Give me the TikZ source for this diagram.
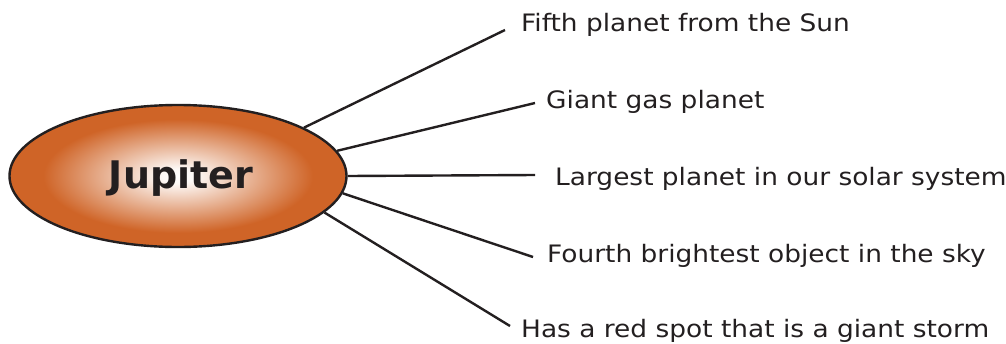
\documentclass[tikz,border=0pt]{standalone}
\usepackage{fontspec}
\usepackage{tikz}
\usetikzlibrary{shapes.geometric}
\newfontfamily\labelfont[FakeStretch=1.1]{DejaVu Sans}
\newfontfamily\titlefont{DejaVu Sans}
\definecolor{planetorange}{HTML}{CF6427}
\definecolor{ink}{HTML}{231F20}
\pgfdeclareradialshading{jupiterglow}{\pgfpoint{0bp}{0bp}}{%
  color(0bp)=(white); color(2.5bp)=(white!96!planetorange);
  color(20bp)=(planetorange); color(50bp)=(planetorange)}
\tikzset{
  planet/.style={ellipse, draw=ink, line width=2.4pt, shading=jupiterglow,
    minimum width=337pt, minimum height=142pt, inner sep=0pt},
  title/.style={font=\titlefont\bfseries\fontsize{38}{44}\selectfont, text=ink,
    anchor=base, inner sep=0pt},
  fact/.style={font=\labelfont\fontsize{24}{28}\selectfont, text=ink,
    anchor=base west, inner sep=0pt},
  spoke/.style={draw=ink, line width=2.4pt}
}
\begin{document}
\begin{tikzpicture}[x=1pt, y=-1pt]
  \useasboundingbox (0,0) rectangle (1006,343);

  \node[planet] (jupiter) at (178,176) {};
  \node[title] (name) at (181,188) {Jupiter};

  \node[fact] (fifth) at (521,31) {Fifth planet from the Sun};
  \node[fact] (gas) at (546,108) {Giant gas planet};
  \node[fact] (largest) at (555,185) {Largest planet in our solar system};
  \node[fact] (bright) at (547,262) {Fourth brightest object in the sky};
  \node[fact] (spot) at (521,337) {Has a red spot that is a giant storm};

  \coordinate (e1) at (505,30);
  \coordinate (e2) at (535,103);
  \coordinate (e3) at (535,175);
  \coordinate (e4) at (533,257);
  \coordinate (e5) at (510,326);

  \draw[spoke] (jupiter.21.6) -- (e1);
  \draw[spoke] (jupiter.9.2) -- (e2);
  \draw[spoke] (jupiter.0) -- (e3);
  \draw[spoke] (jupiter.-6.6) -- (e4);
  \draw[spoke] (jupiter.-14.1) -- (e5);
\end{tikzpicture}
\end{document}
